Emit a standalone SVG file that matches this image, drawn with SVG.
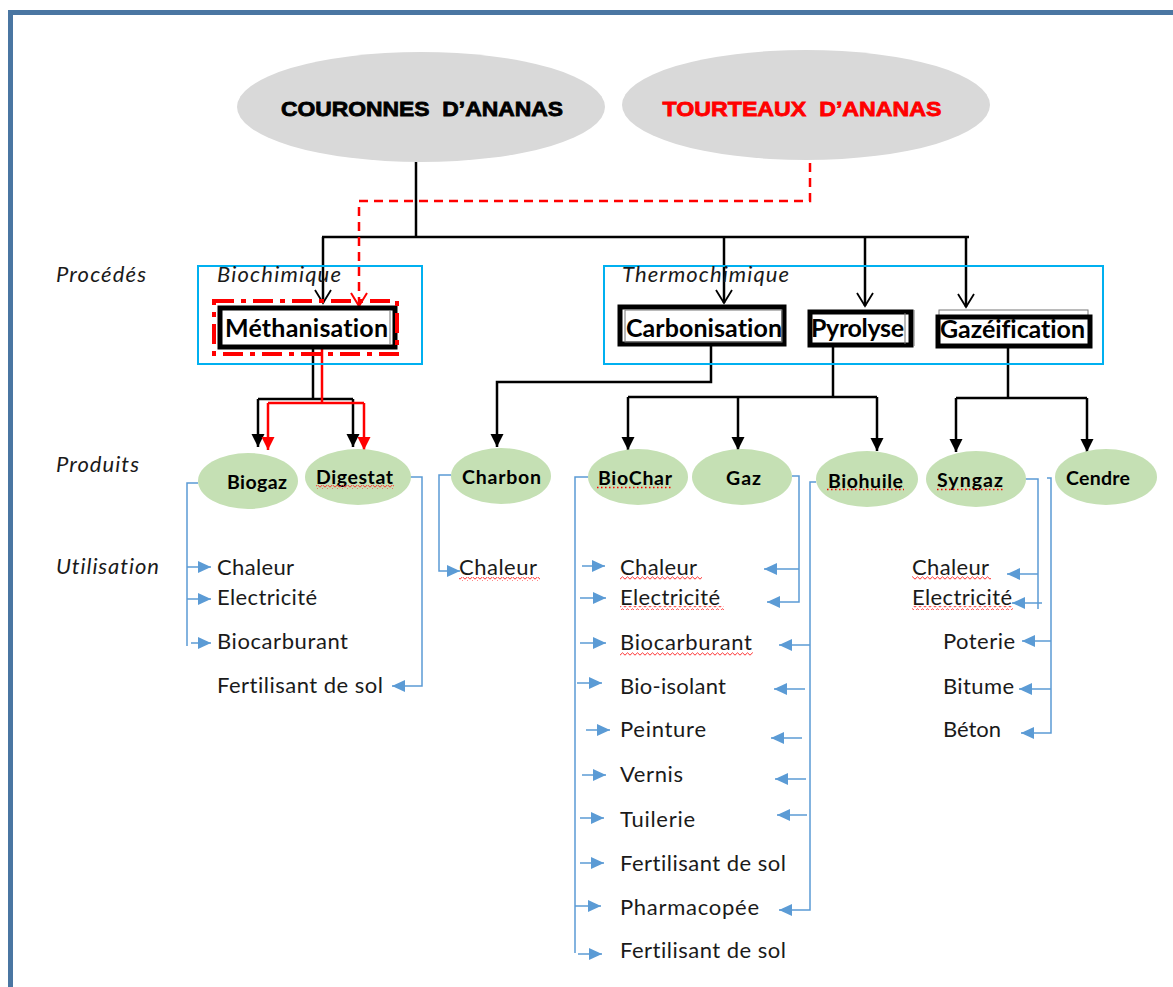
<svg xmlns="http://www.w3.org/2000/svg" width="1173" height="987" viewBox="0 0 1173 987">
<style>
text{font-variant-ligatures:none;}
.title{font-family:"Liberation Sans",Arial,sans-serif;font-weight:bold;font-size:21px;white-space:pre;stroke-width:0.8;}
.proc{font-family:Lato,"Liberation Sans",sans-serif;font-weight:bold;font-size:25px;fill:#000;}
.prod{font-family:Lato,"Liberation Sans",sans-serif;font-weight:bold;font-size:19.5px;fill:#000;}
.use{font-family:Lato,"Liberation Sans",sans-serif;font-size:22px;fill:#1a1a1a;}
.ital{font-family:Lato,"Liberation Sans",sans-serif;font-style:italic;font-size:22px;fill:#1a1a1a;}
.grey{fill:#d9d9d9;}
.green{fill:#c5e0b4;}
.group{fill:none;stroke:#00b0f0;stroke-width:2;}
.pbox{fill:#fff;stroke:#000;stroke-width:5;}
.inner{fill:none;stroke:#777;stroke-width:1;}
.blk{fill:none;stroke:#000;stroke-width:2.5;}
.red{fill:none;stroke:#ff0000;stroke-width:2.5;}
.reddash{fill:none;stroke:#ff0000;stroke-width:2.5;stroke-dasharray:9 6;}
.blu{fill:none;stroke:#5b9bd5;stroke-width:1.5;marker-end:url(#ab);}
.blun{fill:none;stroke:#5b9bd5;stroke-width:1.5;}
.wave{fill:url(#wv);}
.dots{fill:none;stroke:#ff0000;stroke-width:1.5;stroke-dasharray:1.5 2.5;}
</style>
<defs>
<marker id="ab" markerUnits="userSpaceOnUse" markerWidth="13" markerHeight="12" refX="13" refY="6" orient="auto" overflow="visible"><path d="M0,0 L13,6 L0,12 z" fill="#5b9bd5"/></marker>
<marker id="afk" markerUnits="userSpaceOnUse" markerWidth="13" markerHeight="13" refX="13" refY="6.5" orient="auto" overflow="visible"><path d="M0,0 L13,6.5 L0,13 z" fill="#000"/></marker>
<marker id="afr" markerUnits="userSpaceOnUse" markerWidth="13" markerHeight="13" refX="13" refY="6.5" orient="auto" overflow="visible"><path d="M0,0 L13,6.5 L0,13 z" fill="#ff0000"/></marker>
<marker id="aok" markerUnits="userSpaceOnUse" markerWidth="14" markerHeight="17" refX="13" refY="8" orient="auto" overflow="visible"><path d="M0,0 L13,8 L0,16" fill="none" stroke="#000" stroke-width="1.8"/></marker>
<marker id="aor" markerUnits="userSpaceOnUse" markerWidth="14" markerHeight="17" refX="13" refY="8" orient="auto" overflow="visible"><path d="M0,0 L13,8 L0,16" fill="none" stroke="#ff0000" stroke-width="2"/></marker>
<pattern id="wv" patternUnits="userSpaceOnUse" width="5" height="4"><path d="M0,3.2 L2.5,0.8 L5,3.2" fill="none" stroke="#ff3030" stroke-width="1"/></pattern>
</defs>
<rect width="1173" height="987" fill="#fff"/>
<rect x="10.5" y="12.5" width="1220" height="1020" fill="none" stroke="#4a76a2" stroke-width="5"/>

<g id="labels">
<text class="ital" x="56" y="282" textLength="90">Procédés</text>
<text class="ital" x="56" y="472" textLength="83">Produits</text>
<text class="ital" x="56" y="574" textLength="103">Utilisation</text>
</g>

<g id="connectors">
<path class="blk" d="M416,162 V237"/>
<path class="blk" d="M322,237 H969" stroke-width="2"/>
<path class="blk" d="M323,237 V303" stroke-width="2" marker-end="url(#aok)"/>
<path class="blk" d="M724,237 V303" stroke-width="2" marker-end="url(#aok)"/>
<path class="blk" d="M865,237 V306" stroke-width="2" marker-end="url(#aok)"/>
<path class="blk" d="M966,237 V307" stroke-width="2" marker-end="url(#aok)"/>
<path class="reddash" d="M810,163 V201 H359 V306" marker-end="url(#aor)"/>
<path class="blk" d="M313,348 V399"/>
<path class="blk" d="M258,399 H353"/>
<path class="blk" d="M258,399 V447" marker-end="url(#afk)"/>
<path class="blk" d="M353,399 V447" marker-end="url(#afk)"/>
<path class="red" d="M322,348 V403"/>
<path class="red" d="M268,403 H364"/>
<path class="red" d="M268,403 V450" marker-end="url(#afr)"/>
<path class="red" d="M364,403 V450" marker-end="url(#afr)"/>
<path class="blk" d="M711,346 V382 H497 V447" marker-end="url(#afk)"/>
<path class="blk" d="M833,346 V397"/>
<path class="blk" d="M628,397 H877"/>
<path class="blk" d="M628,397 V450" marker-end="url(#afk)"/>
<path class="blk" d="M738,397 V450" marker-end="url(#afk)"/>
<path class="blk" d="M877,397 V451" marker-end="url(#afk)"/>
<path class="blk" d="M1008,347 V398"/>
<path class="blk" d="M956,398 H1087"/>
<path class="blk" d="M956,398 V452" marker-end="url(#afk)"/>
<path class="blk" d="M1087,398 V452" marker-end="url(#afk)"/>

<path class="blun" d="M198,483 H187 V646"/>
<path class="blu" d="M187,567 H211"/>
<path class="blu" d="M187,599 H211"/>
<path class="blu" d="M191,643 H211"/>
<path class="blu" d="M407,477 H422 V686 H392"/>
<path class="blu" d="M451,475 H439 V571 H460"/>
<path class="blun" d="M588,477 H575 V953"/>
<path class="blu" d="M582,566 H605"/>
<path class="blu" d="M580,598 H606"/>
<path class="blu" d="M580,643 H606"/>
<path class="blu" d="M577,683 H602"/>
<path class="blu" d="M586,730 H610"/>
<path class="blu" d="M582,775 H606"/>
<path class="blu" d="M580,818 H604"/>
<path class="blu" d="M580,863 H604"/>
<path class="blu" d="M575,906 H601"/>
<path class="blu" d="M578,954 H602"/>
<path class="blu" d="M792,476 H799 V602 H767"/>
<path class="blu" d="M799,569 H764"/>
<path class="blu" d="M816,482 H810 V910 H779"/>
<path class="blu" d="M810,645 H779"/>
<path class="blu" d="M805,689 H774"/>
<path class="blu" d="M802,738 H771"/>
<path class="blu" d="M806,779 H775"/>
<path class="blu" d="M807,815 H777"/>
<path class="blun" d="M1025,479 H1038 V609"/>
<path class="blu" d="M1038,574 H1007"/>
<path class="blu" d="M1042,603 H1012"/>
<path class="blu" d="M1047,478 H1051 V733 H1021"/>
<path class="blu" d="M1051,641 H1022"/>
<path class="blu" d="M1051,689 H1019"/>
</g>

<g id="couronnes">
<ellipse class="grey" cx="421" cy="107" rx="184" ry="55"/>
<text class="title" x="422" y="116" text-anchor="middle" fill="#000" stroke="#000" textLength="282" lengthAdjust="spacingAndGlyphs">COURONNES  D’ANANAS</text>
</g>
<g id="tourteaux">
<ellipse class="grey" cx="806" cy="105" rx="184" ry="55"/>
<text class="title" x="802" y="116" text-anchor="middle" fill="#ff0000" stroke="#ff0000" textLength="279" lengthAdjust="spacingAndGlyphs">TOURTEAUX  D’ANANAS</text>
</g>

<g id="biochimique">
<rect class="group" x="198" y="266" width="224" height="98"/>
<text class="ital" x="217" y="282" textLength="124">Biochimique</text>
</g>
<g id="thermochimique">
<rect class="group" x="604" y="266" width="499" height="98"/>
<text class="ital" x="622" y="282" textLength="167">Thermochimique</text>
</g>

<g id="methanisation">
<rect class="pbox" x="220" y="308" width="175" height="39"/>
<line class="inner" x1="390" y1="310" x2="390" y2="345"/>
<text class="proc" x="225" y="337" textLength="163">Méthanisation</text>
<rect x="214" y="301" width="183" height="53" fill="none" stroke="#ff0000" stroke-width="4" stroke-dasharray="20 7 5 7"/>
</g>
<g id="carbonisation">
<rect class="pbox" x="620" y="307" width="164" height="37"/>
<rect class="inner" x="625" y="310" width="157" height="32"/>
<text class="proc" x="626" y="337" textLength="156">Carbonisation</text>
</g>
<g id="pyrolyse">
<rect class="pbox" x="810" y="312" width="101" height="33"/>
<line class="inner" x1="905" y1="313" x2="905" y2="344"/>
<line class="inner" x1="914" y1="310" x2="914" y2="346"/>
<text class="proc" x="811" y="337" textLength="93">Pyrolyse</text>
</g>
<g id="gazeification">
<rect class="inner" x="939" y="310" width="149" height="30"/>
<rect class="pbox" x="938" y="317" width="152" height="29"/>
<text class="proc" x="940" y="338" textLength="145">Gazéification</text>
</g>

<g id="biogaz"><ellipse class="green" cx="248" cy="481" rx="50" ry="28"/><text class="prod" x="227" y="489" textLength="60">Biogaz</text></g>
<g id="digestat"><ellipse class="green" cx="358" cy="477" rx="53" ry="28"/><text class="prod" x="316" y="484" textLength="77">Digestat</text><rect class="wave" x="316" y="485" width="78" height="4"/></g>
<g id="charbon"><ellipse class="green" cx="501" cy="476" rx="50" ry="28"/><text class="prod" x="462" y="484" textLength="79">Charbon</text></g>
<g id="biochar"><ellipse class="green" cx="638" cy="477" rx="50" ry="28"/><text class="prod" x="598" y="485" textLength="74">BioChar</text><path class="dots" d="M597,487.5 H673"/></g>
<g id="gaz"><ellipse class="green" cx="742" cy="477" rx="50" ry="28"/><text class="prod" x="726" y="485" textLength="35">Gaz</text></g>
<g id="biohuile"><ellipse class="green" cx="867" cy="479" rx="51" ry="28"/><text class="prod" x="828" y="488" textLength="75">Biohuile</text><path class="dots" d="M827,489.5 H904"/></g>
<g id="syngaz"><ellipse class="green" cx="976" cy="479" rx="50" ry="28"/><text class="prod" x="937" y="487" textLength="66">Syngaz</text><path class="dots" d="M937,489.5 H1005"/></g>
<g id="cendre"><ellipse class="green" cx="1106" cy="477" rx="51" ry="28"/><text class="prod" x="1066" y="485" textLength="64">Cendre</text></g>

<g id="use-biochimique">
<text class="use" x="217" y="575" textLength="77">Chaleur</text>
<text class="use" x="217" y="605" textLength="100">Electricité</text>
<text class="use" x="217" y="649" textLength="131">Biocarburant</text>
<text class="use" x="217" y="693" textLength="166">Fertilisant de sol</text>
</g>
<g id="use-charbon">
<text class="use" x="459" y="575" textLength="78">Chaleur</text>
<rect class="wave" x="459" y="577" width="81" height="4"/>
</g>
<g id="use-pyrolyse">
<text class="use" x="620" y="575" textLength="77">Chaleur</text>
<rect class="wave" x="620" y="576" width="82" height="4"/>
<text class="use" x="620" y="605" textLength="100">Electricité</text>
<rect class="wave" x="620" y="606" width="104" height="4"/>
<text class="use" x="620" y="650" textLength="132">Biocarburant</text>
<rect class="wave" x="620" y="652" width="133" height="4"/>
<text class="use" x="620" y="694" textLength="106">Bio-isolant</text>
<text class="use" x="620" y="737" textLength="86">Peinture</text>
<text class="use" x="620" y="782" textLength="63">Vernis</text>
<text class="use" x="620" y="827" textLength="75">Tuilerie</text>
<text class="use" x="620" y="871" textLength="166">Fertilisant de sol</text>
<text class="use" x="620" y="915" textLength="139">Pharmacopée</text>
<text class="use" x="620" y="958" textLength="166">Fertilisant de sol</text>
</g>
<g id="use-gazeification">
<text class="use" x="912" y="575" textLength="77">Chaleur</text>
<rect class="wave" x="912" y="576" width="79" height="4"/>
<text class="use" x="912" y="605" textLength="100">Electricité</text>
<rect class="wave" x="912" y="606" width="101" height="4"/>
<text class="use" x="943" y="649" textLength="72">Poterie</text>
<text class="use" x="943" y="694" textLength="71">Bitume</text>
<text class="use" x="943" y="737" textLength="58">Béton</text>
</g>
</svg>
